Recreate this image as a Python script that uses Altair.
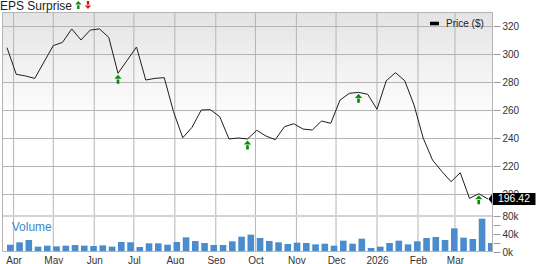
import altair as alt
import pandas as pd

FONT = "Liberation Sans"

# weekly closing prices ($), first week 2025-03-27
start_date = "2025-03-27"
prices = [304.5, 285.5, 284.3, 282.6, 294.3, 306.0, 308.3, 317.9, 310.0, 317.1,
          317.9, 311.9, 286.2, 295.6, 305.0, 281.4, 282.6, 283.1, 258.8, 240.2,
          247.6, 260.0, 260.2, 255.2, 239.3, 240.0, 239.3, 245.5, 241.4, 238.8,
          248.1, 250.2, 246.4, 245.7, 252.1, 250.5, 267.0, 271.9, 272.6, 271.2,
          260.5, 280.9, 286.7, 280.9, 263.6, 239.8, 224.3, 216.2, 208.8, 215.2,
          196.9, 200.2, 196.42]
# weekly volume in thousands
volumes_k = [16.3, 21.5, 26.7, 11.9, 14.1, 12.6, 14.1, 15.6, 14.1, 13.3,
             14.8, 11.9, 22.2, 21.5, 11.1, 19.3, 19.3, 16.3, 22.2, 32.6,
             24.4, 20.0, 15.6, 15.6, 23.7, 34.1, 38.5, 31.1, 24.4, 21.5,
             17.8, 20.7, 20.0, 17.0, 18.5, 14.1, 25.2, 18.5, 29.6, 8.9,
             11.9, 20.0, 25.2, 17.0, 23.7, 31.1, 33.3, 26.7, 52.6, 31.9,
             28.9, 74.1, 20.0]
eps_dates = ["2025-06-19", "2025-09-25", "2025-12-18", "2026-03-19"]
price_ticks = [200, 220, 240, 260, 280, 300, 320]
volume_ticks = [0, 20000, 40000, 60000, 80000]
month_ticks = ["2025-04-01", "2025-05-01", "2025-06-01", "2025-07-01", "2025-08-01",
               "2025-09-01", "2025-10-01", "2025-11-01", "2025-12-01", "2026-01-01",
               "2026-02-01", "2026-03-01"]

dates = pd.date_range(start_date, periods=len(prices), freq="7D")
df = pd.DataFrame({
    "date": dates.strftime("%Y-%m-%d"),
    "price": prices,
    "volume": [v * 1000 for v in volumes_k],
})
eps = df[df["date"].isin(eps_dates)]
last = df.tail(1)
one = pd.DataFrame({"k": [0]})
pgrid_df = pd.DataFrame({"p": price_ticks})
mgrid_df = pd.DataFrame({"d": month_ticks})

W, H = 491, 240
GRID = "#b4b4b4"

d0, d1 = dates[0], dates[-1]
xscale = alt.Scale(type="utc", domain=[
    alt.DateTime(year=d0.year, month=d0.month, date=d0.day, utc=True),
    alt.DateTime(year=d1.year, month=d1.month, date=d1.day, utc=True)])
pscale = alt.Scale(domain=[184.5, 330], range=[203.7, 0], zero=False, nice=False)
vscale = alt.Scale(domain=[0, 80000], range=[240, 204], zero=False, nice=False)

x_axis = alt.Axis(
    orient="bottom",
    values=[alt.DateTime(year=int(s[:4]), month=int(s[5:7]), date=1, utc=True) for s in month_ticks],
    labelExpr="utcmonth(datum.value) == 0 ? utcFormat(datum.value, '%Y') : utcFormat(datum.value, '%b')",
    grid=False, domain=False, ticks=False,
    labelPadding=3, labelFlush=False, labelOverlap=False, title=None)
p_axis = alt.Axis(
    orient="right", values=price_ticks, grid=False,
    domain=False, ticks=True, tickColor="#9a9a9a", tickSize=7, labelPadding=2, title=None)
v_axis = alt.Axis(
    orient="right", values=volume_ticks, format="~s", grid=False, domain=False,
    ticks=True, tickColor="#9a9a9a", tickSize=7, labelPadding=2, title=None)


def X(field="date:T"):
    return alt.X(field, scale=xscale, axis=x_axis)


grad = alt.Chart(one).mark_rect(
    color=alt.Gradient(
        gradient="linear",
        stops=[alt.GradientStop(color="rgba(0,0,0,0.11)", offset=0),
               alt.GradientStop(color="rgba(0,0,0,0.05)", offset=0.5),
               alt.GradientStop(color="rgba(0,0,0,0)", offset=1)],
        x1=0, x2=0, y1=0, y2=1)
).encode(x=alt.value(0), x2=alt.value(W), y=alt.value(0), y2=alt.value(112))

hgrid = alt.Chart(pgrid_df).mark_rule(stroke=GRID, strokeWidth=1, yOffset=0.5, opacity=1).encode(
    y=alt.Y("p:Q", scale=pscale, axis=None), x=alt.value(0), x2=alt.value(W))

vgrid = alt.Chart(mgrid_df).mark_rule(stroke=GRID, strokeWidth=1, opacity=1).encode(
    x=X("d:T"), y=alt.value(0), y2=alt.value(H))

border = alt.Chart(one).mark_rect(fillOpacity=0, stroke=GRID, strokeWidth=1).encode(
    x=alt.value(0.5), x2=alt.value(W - 0.5), y=alt.value(0.5), y2=alt.value(H - 0.5))

sep = alt.Chart(one).mark_rule(stroke="#d4d4d4", strokeWidth=2).encode(
    x=alt.value(0), x2=alt.value(W), y=alt.value(204))

bars = alt.Chart(df).mark_bar(color="#4a8ccc", width=6.6, xOffset=3.3, clip=True).encode(
    x=X(),
    y=alt.Y("volume:Q", scale=vscale, axis=v_axis),
)

line = alt.Chart(df).mark_line(color="#1e1e1e", strokeWidth=1).encode(
    x=X(),
    y=alt.Y("price:Q", scale=pscale, axis=p_axis),
)

ARROW_UP = "M0,-1L0.8,-0.1L-0.8,-0.1Z M-0.3,0.05L0.3,0.05L0.3,1L-0.3,1Z"
ARROW_DN = "M0,1L0.8,0.1L-0.8,0.1Z M-0.3,-0.05L0.3,-0.05L0.3,-1L-0.3,-1Z"

arrows = alt.Chart(eps).mark_point(
    shape=ARROW_UP, filled=True, color="#0b8a0b", size=81, yOffset=6, opacity=1, strokeWidth=0
).encode(
    x=X(),
    y=alt.Y("price:Q", scale=pscale, axis=None),
)

TAG = "M-1,0L-0.81,-0.255L1,-0.255L1,0.255L-0.81,0.255Z"
tag = alt.Chart(last).mark_point(
    shape=TAG, filled=True, color="#000000", size=2209, xOffset=24, opacity=1, strokeWidth=0
).encode(
    x=X(),
    y=alt.Y("price:Q", scale=pscale, axis=None),
)
tag_text = alt.Chart(last).mark_text(
    color="white", dx=26, fontSize=10.5, font=FONT, align="center", baseline="middle"
).encode(
    x=X(),
    y=alt.Y("price:Q", scale=pscale, axis=None),
    text=alt.Text("price:Q", format=".2f"),
)

eps_title = alt.Chart(one).mark_text(
    text="EPS Surprise", align="left", baseline="alphabetic", fontSize=12, font=FONT, color="#222222"
).encode(x=alt.value(-2), y=alt.value(-2.5))
up_icon = alt.Chart(one).mark_point(
    shape=ARROW_UP, filled=True, color="#0b8a0b", size=64, opacity=1, strokeWidth=0
).encode(x=alt.value(76.3), y=alt.value(-7))
dn_icon = alt.Chart(one).mark_point(
    shape=ARROW_DN, filled=True, color="#e01010", size=64, opacity=1, strokeWidth=0
).encode(x=alt.value(86), y=alt.value(-7))

legend_sym = alt.Chart(one).mark_rect(color="#000000").encode(
    x=alt.value(428), x2=alt.value(437), y=alt.value(9.7), y2=alt.value(13.3))
legend_txt = alt.Chart(one).mark_text(
    text="Price ($)", align="left", baseline="middle", fontSize=10, font=FONT, color="#222222"
).encode(x=alt.value(444), y=alt.value(12))

vol_txt = alt.Chart(one).mark_text(
    text="Volume", align="left", baseline="middle", fontSize=12, font=FONT, color="#3d87c9"
).encode(x=alt.value(9.7), y=alt.value(214.7))

chart = alt.layer(
    grad, hgrid, vgrid, sep, bars, line, arrows, tag, tag_text, border,
    eps_title, up_icon, dn_icon, legend_sym, legend_txt, vol_txt
).resolve_scale(y="independent").properties(
    width=W, height=H,
    autosize=alt.AutoSizeParams(type="none"),
    padding={"left": 2, "top": 12, "right": 46, "bottom": 12},
    background="white",
).configure_view(stroke=None).configure_axis(
    labelFont=FONT, labelFontSize=10, labelColor="#333333"
)

chart.save("out.html", embed_options={"renderer": "svg", "actions": False})
